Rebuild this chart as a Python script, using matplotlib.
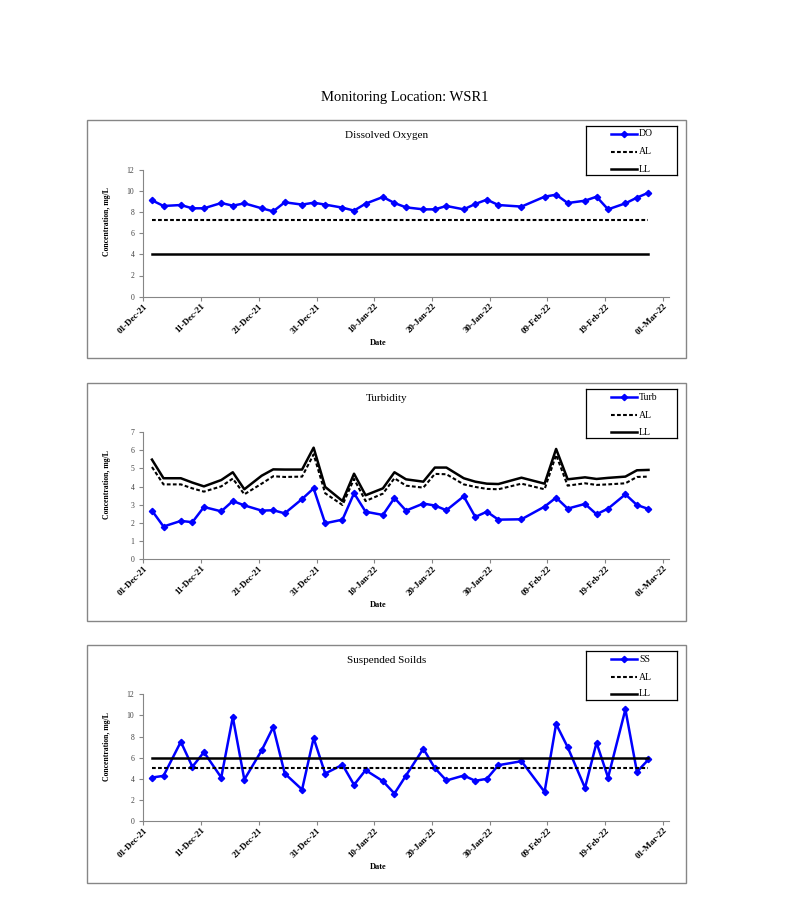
import numpy as np
import pandas as pd
import matplotlib
matplotlib.use("Agg")
import matplotlib.pyplot as plt
import matplotlib.dates as mdates
from matplotlib.patches import Rectangle

W, H = 794, 910
plt.rcParams["font.family"] = ["Liberation Serif", "DejaVu Serif"]

# sampling dates (same for all three parameters)
DATES = [
    "2021-12-02", "2021-12-04", "2021-12-07", "2021-12-09", "2021-12-11",
    "2021-12-14", "2021-12-16", "2021-12-18", "2021-12-21", "2021-12-23",
    "2021-12-25", "2021-12-28", "2021-12-30", "2022-01-01", "2022-01-04",
    "2022-01-06", "2022-01-08", "2022-01-11", "2022-01-13", "2022-01-15",
    "2022-01-18", "2022-01-20", "2022-01-22", "2022-01-25", "2022-01-27",
    "2022-01-29", "2022-01-31", "2022-02-04", "2022-02-08", "2022-02-10",
    "2022-02-12", "2022-02-15", "2022-02-17", "2022-02-19", "2022-02-22",
    "2022-02-24", "2022-02-26",
]

DO = [9.13, 8.59, 8.68, 8.37, 8.37, 8.87, 8.62, 8.84, 8.37, 8.08,
      8.94, 8.72, 8.90, 8.72, 8.43, 8.15, 8.81, 9.44, 8.87, 8.46,
      8.27, 8.27, 8.59, 8.27, 8.78, 9.19, 8.68, 8.53, 9.47, 9.66,
      8.87, 9.09, 9.47, 8.27, 8.84, 9.38, 9.85]
DO_AL = 7.3
DO_LL = 4.0

TURB = [2.67, 1.79, 2.10, 2.03, 2.87, 2.63, 3.20, 2.96, 2.67, 2.69,
        2.52, 3.31, 3.90, 1.97, 2.17, 3.63, 2.61, 2.43, 3.37, 2.67,
        3.06, 2.95, 2.69, 3.46, 2.32, 2.61, 2.17, 2.19, 2.89, 3.39,
        2.78, 3.04, 2.47, 2.78, 3.57, 2.98, 2.76]
TURB_AL = [5.08, 4.12, 4.12, 3.90, 3.72, 4.01, 4.44, 3.57, 4.16, 4.57,
           4.53, 4.55, 5.78, 3.63, 2.98, 4.42, 3.20, 3.61, 4.46, 4.05,
           3.94, 4.70, 4.68, 4.12, 3.98, 3.87, 3.85, 4.16, 3.85, 5.75,
           4.05, 4.18, 4.09, 4.12, 4.18, 4.53, 4.55]
TURB_LL = [5.49, 4.46, 4.46, 4.22, 4.01, 4.36, 4.79, 3.85, 4.60, 4.95,
           4.94, 4.94, 6.15, 3.98, 3.20, 4.71, 3.52, 3.90, 4.79, 4.40,
           4.27, 5.05, 5.05, 4.46, 4.27, 4.16, 4.14, 4.49, 4.16, 6.08,
           4.40, 4.51, 4.42, 4.48, 4.55, 4.90, 4.92]

SS = [4.11, 4.27, 7.50, 5.13, 6.52, 4.11, 9.84, 3.92, 6.68, 8.89,
      4.49, 2.97, 7.85, 4.49, 5.32, 3.42, 4.81, 3.77, 2.59, 4.30,
      6.84, 5.00, 3.83, 4.30, 3.80, 3.99, 5.28, 5.66, 2.75, 9.18,
      6.99, 3.13, 7.41, 4.11, 10.57, 4.65, 5.82]
SS_AL = 5.0
SS_LL = 6.0

PANEL_TITLES = ["Dissolved Oxygen", "Turbidity", "Suspended Soilds"]
SERIES_NAMES = ["DO", "Turb", "SS"]
Y_MAX = [12, 7, 12]
Y_STEP = [2, 1, 2]

BLUE = "#0000FF"
GRAY = "#868686"

# layout in pixels
BOX_X0, BOX_X1 = 87, 686
BOX_TOPS = [120, 383, 645]
BOX_H = 238
PLOT_X0, PLOT_X1 = 143.3, 668.7
PLOT_TOPS = [170, 432.3, 694.3]
PLOT_H = 126.6


def fx(px):
    return px / W


def fy(py):
    return 1 - py / H


def draw_legend(fig, box_top, name):
    lx0, lx1 = 586, 677
    ly0, ly1 = box_top + 6, box_top + 55
    lax = fig.add_axes([fx(lx0), fy(ly1), fx(lx1) - fx(lx0), (ly1 - ly0) / H])
    lax.set_xlim(0, lx1 - lx0)
    lax.set_ylim(ly1 - ly0, 0)
    lax.set_xticks([])
    lax.set_yticks([])
    for s in lax.spines.values():
        s.set_color("black")
        s.set_linewidth(0.9)
    rows = [8, 26, 43]
    lax.plot([25, 51], [rows[0]] * 2, color=BLUE, lw=1.8)
    lax.plot([38], [rows[0]], color=BLUE, marker="D", ms=3.2)
    lax.plot([25, 51], [rows[1]] * 2, color="black", lw=1.5, dashes=(1.8, 1.1))
    lax.plot([25, 51], [rows[2]] * 2, color="black", lw=1.8)
    for y, lab in zip(rows, [name, "AL", "LL"]):
        lax.text(53, y, lab, fontsize=7, va="center", ha="left")


def draw_panel(fig, i, values, al, ll):
    x = pd.to_datetime(DATES) + pd.Timedelta(hours=12)
    if np.isscalar(al):
        al = [al] * len(DATES)
    if np.isscalar(ll):
        ll = [ll] * len(DATES)

    fig.patches.append(Rectangle((fx(BOX_X0), fy(BOX_TOPS[i] + BOX_H)),
                                 fx(BOX_X1) - fx(BOX_X0), BOX_H / H,
                                 transform=fig.transFigure, fill=False,
                                 edgecolor=GRAY, lw=1.0))

    top = PLOT_TOPS[i]
    ax = fig.add_axes([fx(PLOT_X0), fy(top + PLOT_H),
                       fx(PLOT_X1) - fx(PLOT_X0), PLOT_H / H])
    ax.plot(x, values, color=BLUE, lw=1.8, marker="D", ms=3.2, zorder=3)
    ax.plot(x, al, color="black", lw=1.5, dashes=(1.8, 1.1), zorder=4)
    ax.plot(x, ll, color="black", lw=1.8, zorder=5)

    ax.set_xlim(pd.Timestamp("2021-12-01"), pd.Timestamp("2022-03-02"))
    ax.set_ylim(0, Y_MAX[i])
    ax.set_yticks(np.arange(0, Y_MAX[i] + 0.1, Y_STEP[i]))
    ticks = pd.date_range("2021-12-01", periods=10, freq="10D")
    ax.set_xticks(ticks)
    ax.xaxis.set_major_formatter(mdates.DateFormatter("%d-%b-%y"))
    for lab in ax.get_xticklabels():
        lab.set_rotation(45)
        lab.set_ha("right")
        lab.set_rotation_mode("anchor")
        lab.set_fontweight("bold")
        lab.set_fontsize(6.5)
    ax.tick_params(axis="y", labelsize=5.5, labelcolor="#404040",
                   length=3, color=GRAY, width=0.8)
    ax.tick_params(axis="x", length=3, color=GRAY, width=0.8, pad=1)
    for side in ["top", "right"]:
        ax.spines[side].set_visible(False)
    for side in ["left", "bottom"]:
        ax.spines[side].set_color(GRAY)
        ax.spines[side].set_linewidth(0.8)
    ax.patch.set_alpha(0)

    fig.text(fx(386.5), fy(top - 34), PANEL_TITLES[i], fontsize=8,
             ha="center", va="center")
    fig.text(fx(378), fy(top + PLOT_H + 46), "Date", fontsize=6,
             fontweight="bold", ha="center", va="center")
    fig.text(fx(107), fy(top + 52), "Concentration, mg/L", fontsize=5.6,
             fontweight="bold", rotation=90, ha="center", va="center")

    draw_legend(fig, BOX_TOPS[i], SERIES_NAMES[i])


def main():
    fig = plt.figure(figsize=(W / 100, H / 100), dpi=100)
    fig.text(fx(405), fy(97.5), "Monitoring Location: WSR1", fontsize=10.5,
             ha="center", va="center")

    draw_panel(fig, 0, DO, DO_AL, DO_LL)
    draw_panel(fig, 1, TURB, TURB_AL, TURB_LL)
    draw_panel(fig, 2, SS, SS_AL, SS_LL)

    fig.savefig("out.png", dpi=100)
    plt.close(fig)


if __name__ == "__main__":
    main()
